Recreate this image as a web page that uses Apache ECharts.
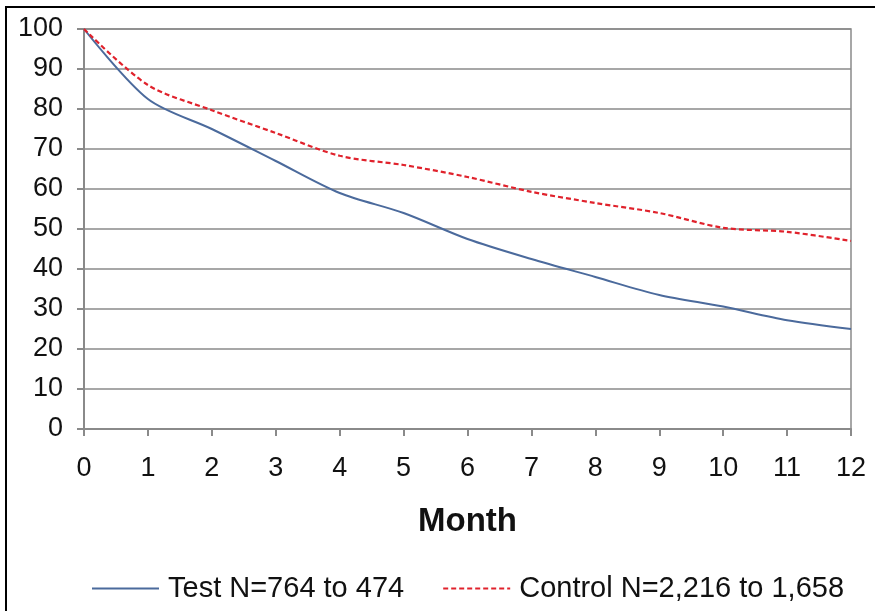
<!DOCTYPE html>
<html>
<head>
<meta charset="utf-8">
<script src="https://cdn.jsdelivr.net/npm/echarts@6/dist/echarts.min.js"></script>
<style>html,body{margin:0;padding:0;background:#fff}#c{width:875px;height:611px}</style>
</head>
<body>
<div id="c"></div>
<script>
const months = [0,1,2,3,4,5,6,7,8,9,10,11,12];
const testValues = [100,82.5,75,67,59,54,47.5,42.5,38,33.5,30.6,27.2,25];
const controlValues = [100,86,79.7,74,68.3,66,63,59.3,56.5,54,50.3,49.3,47];
const seriesNames = ['Test N=764 to 474','Control N=2,216 to 1,658'];
const xTitle = 'Month';

const chart = echarts.init(document.getElementById('c'), null, {renderer:'canvas'});
const font = '"Liberation Sans", Arial, sans-serif';
chart.setOption({
  animation:false,
  backgroundColor:'#fff',
  textStyle:{fontFamily:font},
  grid:{left:84,right:24,top:29,bottom:182,show:true,borderColor:'#8a8a8a',borderWidth:1.5,backgroundColor:'transparent'},
  legend:{
    left:86, top:569,
    itemWidth:67, itemHeight:14, itemGap:38,
    itemStyle:{opacity:0},
    textStyle:{fontSize:29,color:'#111',fontFamily:font,padding:[0,0,0,4]},
    data:seriesNames
  },
  xAxis:{
    type:'value', min:0, max:12, interval:1,
    name:xTitle, nameLocation:'middle', nameGap:76,
    nameTextStyle:{fontSize:33,fontWeight:'bold',color:'#111',fontFamily:font},
    axisLine:{show:true,lineStyle:{color:'#8a8a8a',width:2}},
    axisTick:{show:true,length:7,lineStyle:{color:'#8a8a8a',width:2}},
    axisLabel:{fontSize:27,color:'#111',margin:26,fontFamily:font},
    splitLine:{show:false}
  },
  yAxis:{
    type:'value', min:0, max:100, interval:10,
    axisLine:{show:true,lineStyle:{color:'#8a8a8a',width:2}},
    axisTick:{show:true,length:7,lineStyle:{color:'#8a8a8a',width:2}},
    axisLabel:{fontSize:27,color:'#111',margin:21,fontFamily:font},
    splitLine:{show:true,lineStyle:{color:'#8a8a8a',width:1.5}}
  },
  series:[
    {name:seriesNames[0],type:'line',smooth:0.3,symbol:'none',
     data:months.map((m,i)=>[m,testValues[i]]),
     lineStyle:{color:'#4b6a9c',width:2},itemStyle:{color:'#4b6a9c'}},
    {name:seriesNames[1],type:'line',smooth:0.3,symbol:'none',
     data:months.map((m,i)=>[m,controlValues[i]]),
     lineStyle:{color:'#e0222c',width:2.2,type:[5,3]},itemStyle:{color:'#e0222c'}}
  ],
  graphic:[
    {type:'line',shape:{x1:5,y1:7,x2:875,y2:7},style:{stroke:'#000',lineWidth:2}},
    {type:'line',shape:{x1:6,y1:6,x2:6,y2:611},style:{stroke:'#000',lineWidth:2}}
  ]
});
</script>
</body>
</html>
